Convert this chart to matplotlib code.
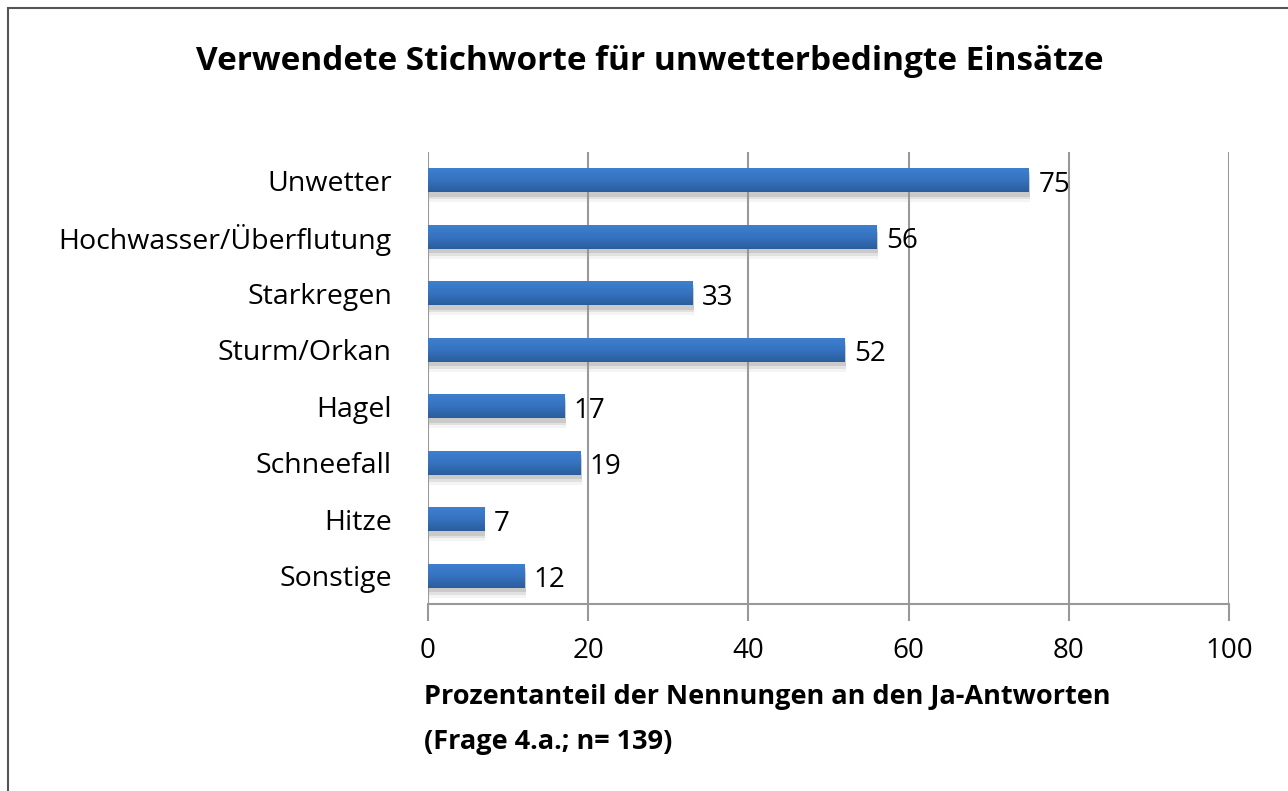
import numpy as np
import matplotlib.pyplot as plt
import matplotlib.patheffects as pe
from matplotlib.patches import Rectangle
from matplotlib.colors import LinearSegmentedColormap

# Data
categories = ['Unwetter', 'Hochwasser/Überflutung', 'Starkregen', 'Sturm/Orkan',
              'Hagel', 'Schneefall', 'Hitze', 'Sonstige']
values = [75, 56, 33, 52, 17, 19, 7, 12]
xticks = [0, 20, 40, 60, 80, 100]

plt.rcParams['font.family'] = ['Open Sans', 'DejaVu Sans']

fig = plt.figure(figsize=(12.88, 7.91), dpi=100)
ax = fig.add_axes([428 / 1288, 1 - 604 / 791, (1229 - 428) / 1288, (604 - 152) / 791])

# frame around the whole picture
fig.patches.append(Rectangle((8 / 1288, -0.05), 1.1, 1 - 8 / 791 + 0.05,
                             transform=fig.transFigure, fill=False,
                             edgecolor='#555555', linewidth=1.5))

y = list(range(len(categories)))
bars = ax.barh(y, values, height=0.43, color='#3571bb', zorder=3)

# vertical gradient inside each bar + soft shadow
cmap = LinearSegmentedColormap.from_list('bar', ['#3f80d0', '#3673c0', '#2b5d9c'])
grad = np.linspace(0, 1, 64).reshape(-1, 1)
for b in bars:
    b.set_path_effects([pe.SimplePatchShadow(offset=(1, -7), shadow_rgbFace='#aaaaaa', alpha=0.12),
                        pe.SimplePatchShadow(offset=(1, -5), shadow_rgbFace='#999999', alpha=0.2),
                        pe.SimplePatchShadow(offset=(1, -3), shadow_rgbFace='#888888', alpha=0.25),
                        pe.Normal()])
    x0, y0, w, h = b.get_x(), b.get_y(), b.get_width(), b.get_height()
    im = ax.imshow(grad, extent=(x0, x0 + w, y0 + h, y0), aspect='auto', cmap=cmap, zorder=3.5,
                   origin='upper')
    im.set_clip_path(b)

for yi, v in zip(y, values):
    ax.text(v + 1.2, yi + 0.08, str(v), va='center', ha='left', fontsize=20, color='black', zorder=4)

ax.set_ylim(len(categories) - 0.5, -0.5)
ax.set_xlim(0, 100)
ax.set_xticks(xticks)
ax.set_xticklabels([str(t) for t in xticks], fontsize=20)
ax.set_yticks(y)
ax.set_yticklabels(categories, fontsize=20.5)
ax.tick_params(axis='y', length=0, pad=26)
ax.tick_params(axis='x', length=12, width=1.5, color='#999999', pad=12)

ax.grid(axis='x', color='#999999', linewidth=1.5, zorder=0)
for s in ['top', 'right', 'left']:
    ax.spines[s].set_visible(False)
ax.spines['bottom'].set_color('#999999')
ax.spines['bottom'].set_linewidth(1.5)

fig.text(650 / 1288, 1 - 62 / 791, 'Verwendete Stichworte für unwetterbedingte Einsätze',
         ha='center', va='center', fontsize=24, fontweight='bold')
fig.text(424 / 1288, 1 - 697 / 791, 'Prozentanteil der Nennungen an den Ja-Antworten',
         ha='left', va='center', fontsize=19.5, fontweight='bold')
fig.text(424 / 1288, 1 - 742 / 791, '(Frage 4.a.; n= 139)',
         ha='left', va='center', fontsize=19.5, fontweight='bold')

fig.savefig('out.png', dpi=100)
